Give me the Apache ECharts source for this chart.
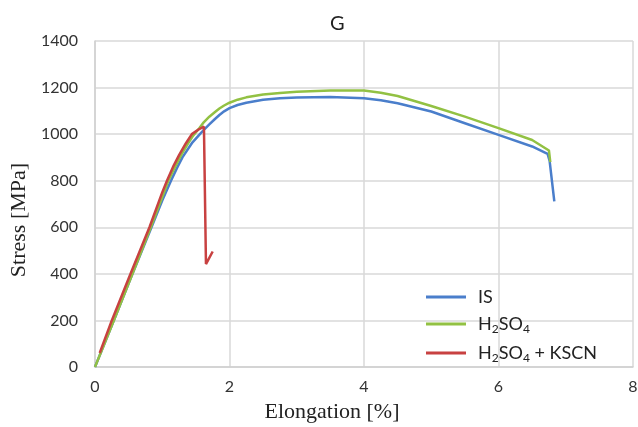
<!DOCTYPE html>
<html>
<head>
<meta charset="utf-8">
<style>
    html, body { margin: 0; padding: 0; background: #fff; }
    #chart { width: 638px; height: 427px; }
</style>
<script src="https://cdn.jsdelivr.net/npm/echarts@6/dist/echarts.min.js"></script>
</head>
<body>
<div id="chart"></div>
<script>
// series names
var names = ['IS', 'H2SO4', 'H2SO4 + KSCN'];
var colors = ['#4a7ecb', '#92c143', '#c84141'];

// IS
var isX = [0, 0.28, 0.55, 0.84, 1.0, 1.13, 1.22, 1.3, 1.38, 1.45, 1.56, 1.63, 1.7, 1.78, 1.85, 1.92, 2.0, 2.12, 2.25, 2.5, 2.75, 3.0, 3.5, 4.0, 4.25, 4.5, 5.0, 5.5, 6.0, 6.5, 6.73, 6.76, 6.83];
var isY = [0, 200, 395, 600, 715, 800, 855, 900, 935, 965, 1000, 1022, 1042, 1064, 1082, 1098, 1112, 1125, 1135, 1148, 1154, 1157, 1160, 1154, 1146, 1133, 1097, 1047, 997, 947, 915, 885, 711];

// H2SO4
var h2X = [0, 0.28, 0.55, 0.83, 1.0, 1.09, 1.2, 1.3, 1.38, 1.45, 1.55, 1.62, 1.7, 1.78, 1.85, 1.92, 2.0, 2.12, 2.25, 2.5, 2.75, 3.0, 3.5, 4.0, 4.25, 4.5, 5.0, 5.5, 6.0, 6.5, 6.75, 6.77];
var h2Y = [0, 200, 395, 600, 730, 800, 865, 920, 958, 990, 1025, 1052, 1075, 1094, 1110, 1123, 1135, 1148, 1158, 1170, 1177, 1182, 1187, 1187, 1178, 1164, 1121, 1075, 1026, 975, 930, 880];

// H2SO4 + KSCN
var ksX = [0.07, 0.25, 0.5, 0.81, 1.0, 1.07, 1.17, 1.25, 1.35, 1.44, 1.55, 1.62, 1.65, 1.75];
var ksY = [60, 200, 380, 600, 750, 800, 865, 910, 960, 1000, 1022, 1032, 442, 496];

function pairs(xs, ys) {
    var out = [];
    for (var i = 0; i < xs.length; i++) {
        out.push([xs[i], ys[i]]);
    }
    return out;
}

function legendLabel(name) {
    if (name == 'IS') return '{a|IS}';
    if (name == 'H2SO4') return '{a|H}{b|2}{a|SO}{b|4}';
    return '{a|H}{b|2}{a|SO}{b|4}{a| + KSCN}';
}

function plainNum(v) {
    return String(v);
}

var myChart = echarts.init(document.getElementById('chart'));
var option = {
    animation: false,
    color: colors,
    title: {
        text: 'G',
        left: 325,
        top: 9,
        textStyle: {
            fontFamily: 'Lato',
            fontWeight: 'normal',
            fontSize: 20,
            color: '#222'
        }
    },
    grid: {
        left: 95,
        right: 5,
        top: 41,
        bottom: 60,
        outerBoundsMode: 'none'
    },
    legend: {
        data: names,
        orient: 'vertical',
        left: 421,
        top: 283,
        icon: 'rect',
        itemWidth: 40,
        itemHeight: 3,
        itemGap: 9,
        formatter: legendLabel,
        textStyle: {
            padding: [0, 0, 0, 7],
            rich: {
                a: { fontFamily: 'Lato', fontSize: 18, lineHeight: 22, color: '#222' },
                b: { fontFamily: 'Lato', fontSize: 12, lineHeight: 12, verticalAlign: 'bottom', color: '#222' }
            }
        }
    },
    xAxis: {
        type: 'value',
        min: 0,
        max: 8,
        interval: 2,
        name: 'Elongation [%]',
        nameLocation: 'middle',
        nameGap: 34,
        nameTextStyle: {
            fontFamily: 'Liberation Serif',
            fontSize: 22,
            color: '#222',
            padding: [0, 64, 0, 0]
        },
        axisLine: { lineStyle: { color: '#d0d0d0', width: 1.5 } },
        axisTick: { show: false },
        axisLabel: {
            margin: 12,
            fontFamily: 'Lato',
            fontSize: 16,
            color: '#333',
            formatter: plainNum
        },
        splitLine: { lineStyle: { color: '#d9d9d9', width: 1.5 } }
    },
    yAxis: {
        type: 'value',
        min: 0,
        max: 1400,
        interval: 200,
        name: 'Stress [MPa]',
        nameLocation: 'middle',
        nameGap: 62,
        nameTextStyle: {
            fontFamily: 'Liberation Serif',
            fontSize: 22,
            color: '#222',
            padding: [0, 32, 0, 0]
        },
        axisLine: { show: true, lineStyle: { color: '#d0d0d0', width: 1.5 } },
        axisTick: { show: false },
        axisLabel: {
            margin: 17,
            fontFamily: 'Lato',
            fontSize: 16,
            color: '#333',
            formatter: plainNum
        },
        splitLine: { lineStyle: { color: '#d9d9d9', width: 1.5 } }
    },
    series: [{
        name: names[0],
        type: 'line',
        showSymbol: false,
        lineStyle: { width: 2.5 },
        data: pairs(isX, isY)
    }, {
        name: names[1],
        type: 'line',
        showSymbol: false,
        lineStyle: { width: 2.5 },
        data: pairs(h2X, h2Y)
    }, {
        name: names[2],
        type: 'line',
        showSymbol: false,
        lineStyle: { width: 2.5 },
        data: pairs(ksX, ksY)
    }]
};
myChart.setOption(option, true);
</script>
</body>
</html>
